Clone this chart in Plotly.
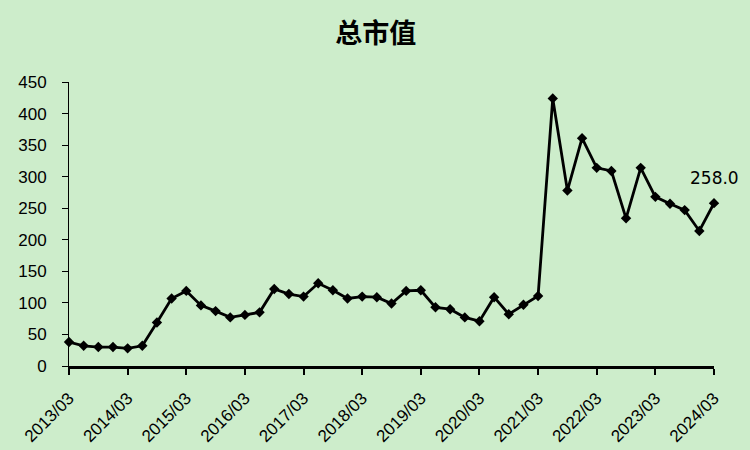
import plotly.graph_objects as go

periods = [f"{y}/{m:02d}" for y in range(2013, 2025) for m in (3, 6, 9, 12)][:45]
values = [38, 32, 30, 30, 28, 32, 69, 107, 119, 96, 87, 77, 81, 85, 122, 114,
          110, 131, 120, 107, 110, 109, 99, 119, 120, 93, 90, 77, 71, 109, 82, 97,
          111, 424, 278, 361, 314, 309, 234, 314, 268, 257, 247, 214, 258]
tick_labels = [f"{y}/03" for y in range(2013, 2025)]
title_text = "总市值"
last_label = "258.0"

x_idx = list(range(len(values)))
bg = "#CDEDCB"

fig = go.Figure()
fig.add_trace(go.Scatter(
    x=x_idx, y=values, mode="lines+markers",
    line=dict(color="black", width=2.8),
    marker=dict(symbol="diamond", size=8, color="black"),
    cliponaxis=False, hoverinfo="skip", showlegend=False,
))
fig.add_annotation(
    x=x_idx[-1], y=values[-1], text=last_label, showarrow=False,
    xanchor="center", yanchor="middle", yshift=25,
    font=dict(family="DejaVu Sans", size=17, color="black"),
)

fig.update_layout(
    width=750, height=450,
    paper_bgcolor=bg, plot_bgcolor=bg,
    margin=dict(l=69, r=36, t=82, b=84, autoexpand=False),
    title=dict(text=f"<b>{title_text}</b>", x=0.501, xanchor="center", y=0.925, yanchor="middle",
               font=dict(family="Noto Sans CJK SC", size=27, color="black")),
    font=dict(family="Liberation Sans", size=17, color="black"),
)
fig.update_xaxes(
    range=[0, 44], tickvals=list(range(0, 45, 4)), ticktext=tick_labels,
    tickangle=-45, ticks="outside", ticklen=6, tickwidth=2, tickcolor="black",
    showline=True, linecolor="black", linewidth=2.5, showgrid=False, zeroline=False,
    tickfont=dict(family="Liberation Sans", size=17), automargin=False,
    ticklabelstandoff=7,
)
fig.update_yaxes(
    range=[0, 450], tickvals=list(range(0, 451, 50)),
    ticks="outside", ticklen=6, tickwidth=1, tickcolor="black",
    showline=True, linecolor="black", linewidth=1, showgrid=False, zeroline=False,
    tickfont=dict(family="Liberation Sans", size=17), automargin=False,
    ticklabelstandoff=12,
)

fig.write_html(
    "out.html",
    config={"displayModeBar": False},
    post_script="document.body.style.margin='0';document.body.style.background='" + bg + "';",
)
